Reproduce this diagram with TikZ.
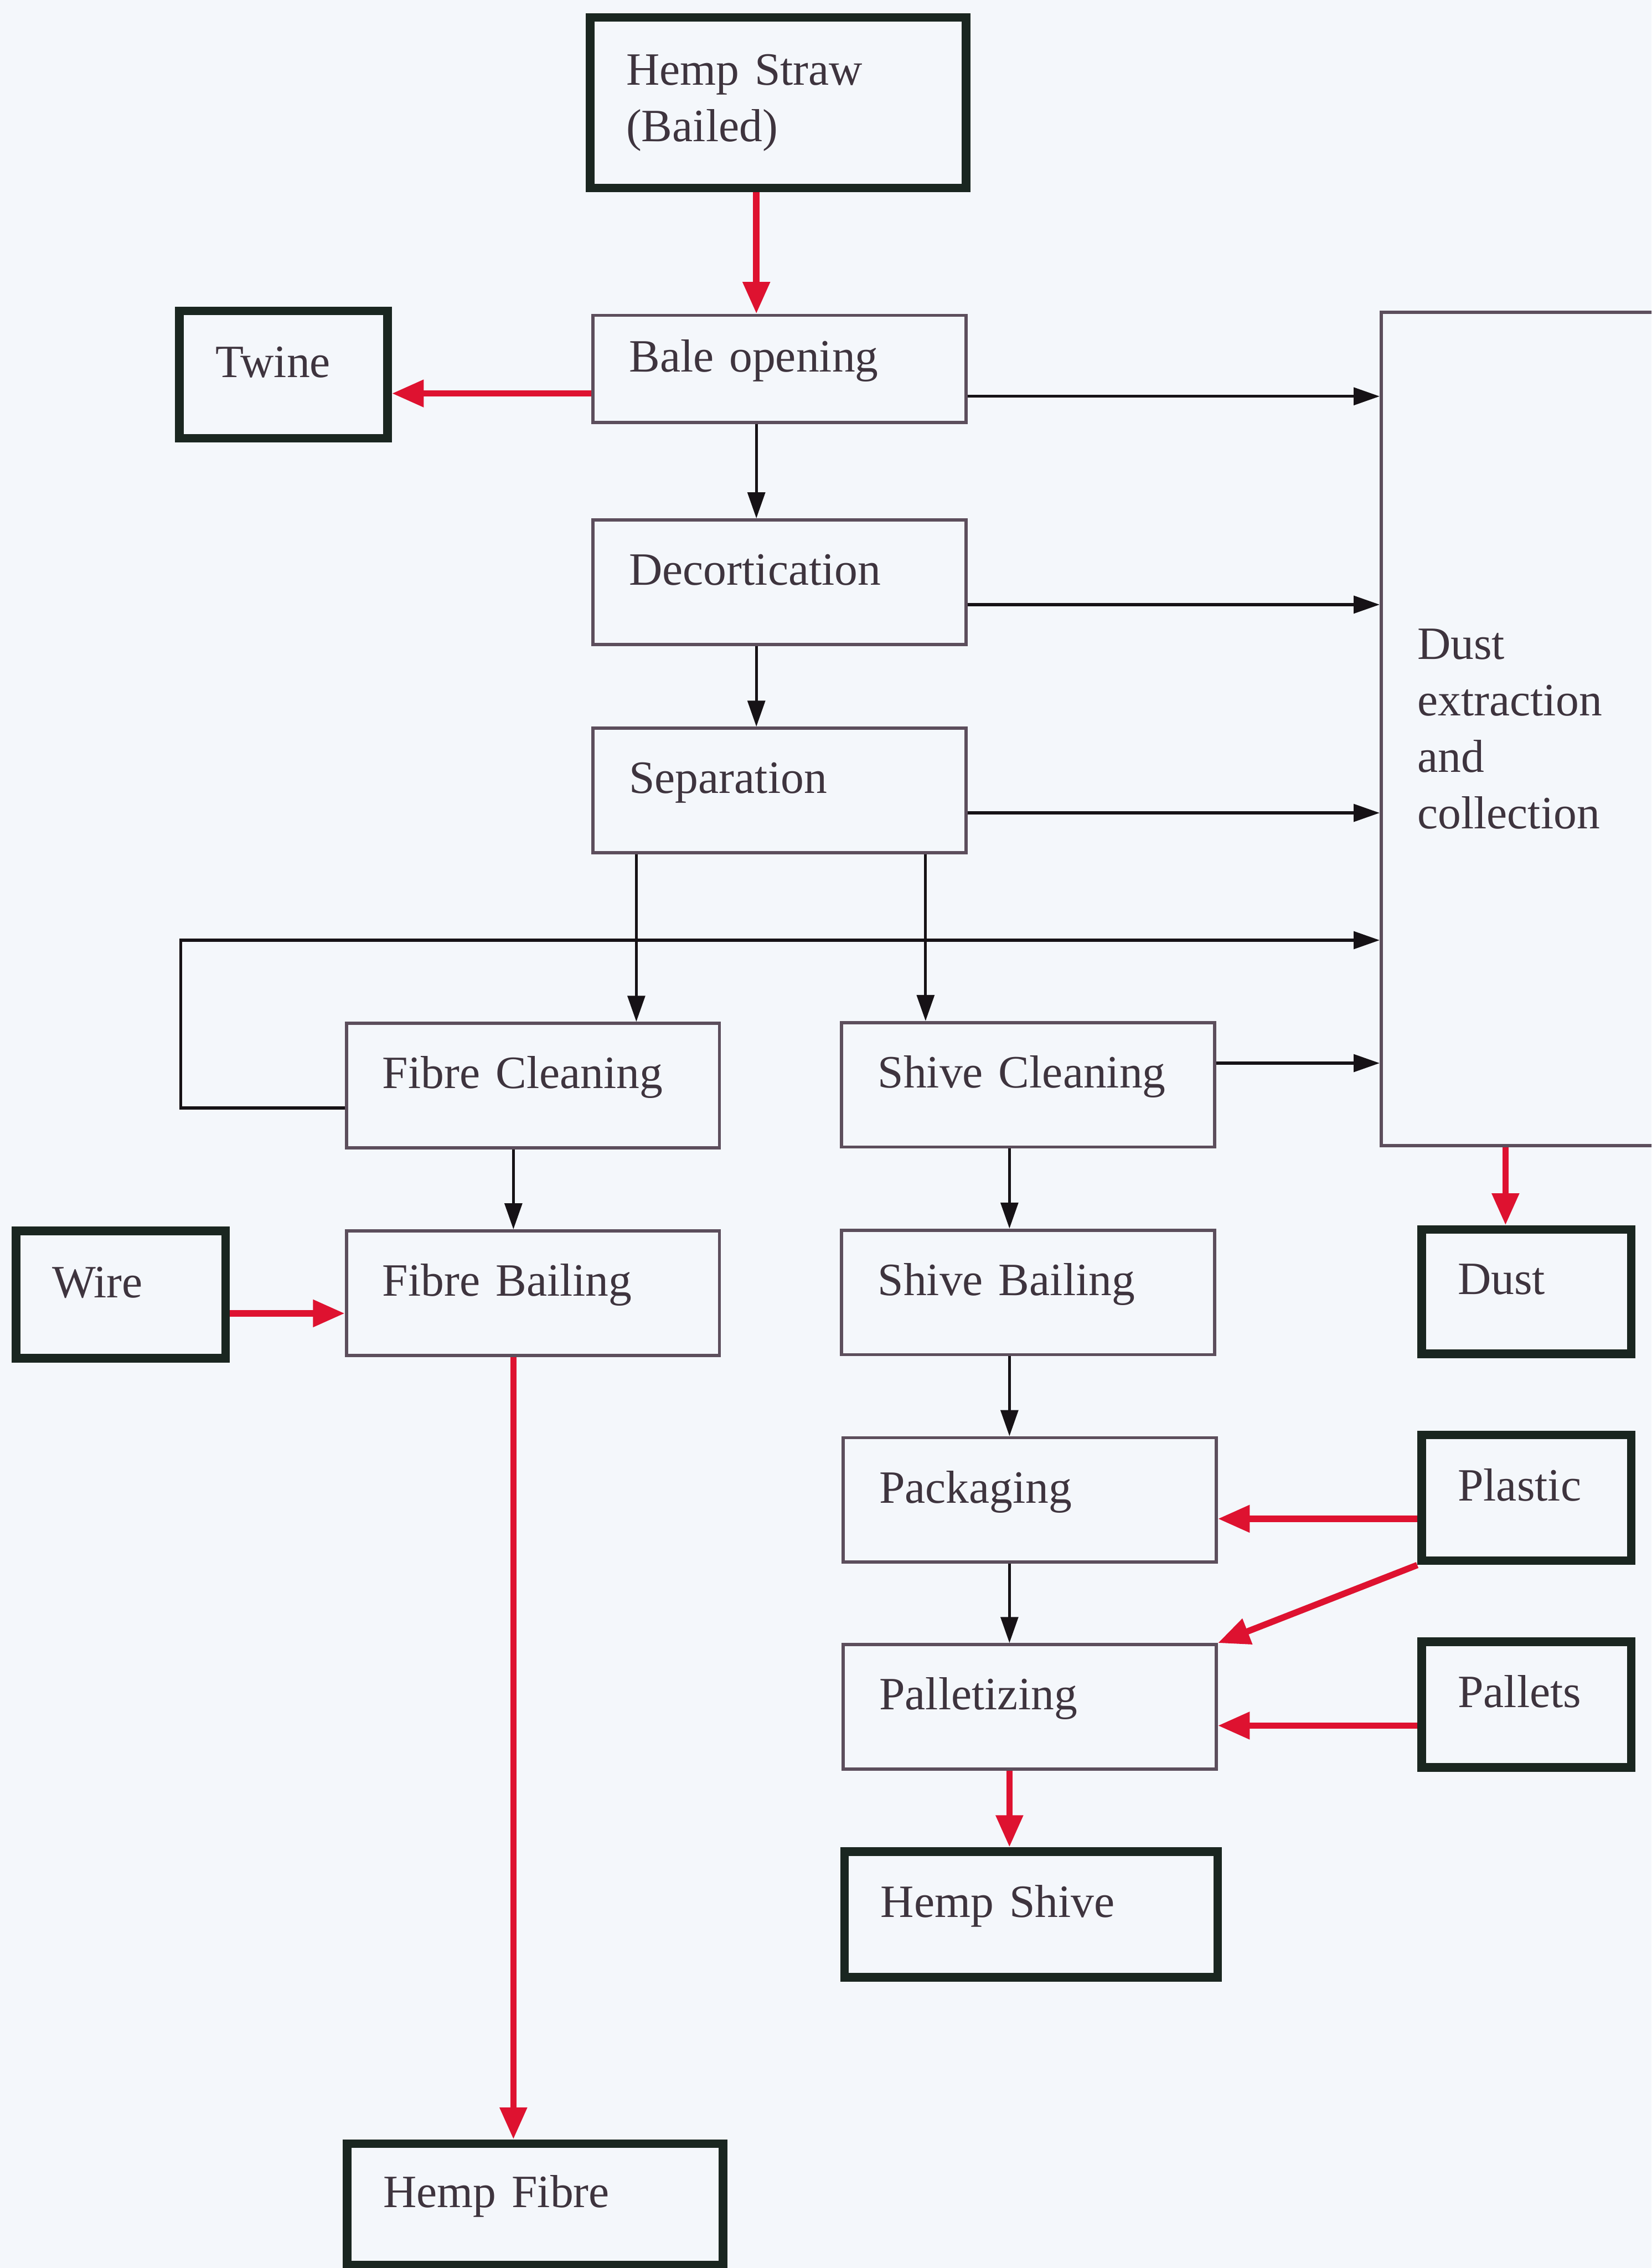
\documentclass[tikz,border=0pt]{standalone}
\usepackage{fontspec}
\setmainfont{Liberation Serif}
\usetikzlibrary{arrows.meta}

\definecolor{bgc}{RGB}{244,247,251}
\definecolor{txtc}{RGB}{62,52,62}
\definecolor{linec}{RGB}{92,78,92}
\definecolor{edgec}{RGB}{26,38,32}
\definecolor{flowred}{RGB}{222,18,48}
\definecolor{flowblk}{RGB}{22,18,22}

\begin{document}
\begin{tikzpicture}[x=0.5pt,y=-0.5pt,
  every node/.style={font=\fontsize{16pt}{19.5pt}\selectfont, text=txtc},
  basebox/.style={rectangle, draw=linec, line width=1.1pt, align=left,
                  inner xsep=12.5pt, inner ysep=0pt},
  oneline/.style={text height=11pt, text depth=9pt},
  stage/.style={basebox, oneline, text width=104pt, minimum height=43pt},
  endbox/.style={basebox, draw=edgec, line width=3pt},
  blkarrow/.style={draw=flowblk, line width=1pt, -{Triangle[length=9pt,width=6pt]}},
  redarrow/.style={draw=flowred, line width=2.2pt, -{Triangle[length=11pt,width=9pt]}}
]
\useasboundingbox (0,0) rectangle (1142,1568);
\clip (0,0) rectangle (1142,1568);
\fill[bgc] (0,0) rectangle (1142,1568);

% main fibre/shive processing line
\node[endbox, text width=105pt, minimum height=59pt] (straw) at (538,71) {Hemp Straw\\(Bailed)};
\node[stage, minimum height=37pt] (bale) at (539,255) {Bale opening};
\node[endbox, oneline, text width=47pt, minimum height=44pt] (twine) at (196,259) {Twine};
\node[stage] (decort) at (539,402.5) {Decortication};
\node[stage] (sep) at (539,546.5) {Separation};
\node[basebox, anchor=west, text width=95pt, minimum height=288pt] (dustx) at (954,504)
  {Dust\\extraction\\and\\collection};
\node[stage] (fclean) at (368.5,750.5) {Fibre Cleaning};
\node[stage] (sclean) at (711,750) {Shive Cleaning};
\node[endbox, oneline, text width=47.5pt, minimum height=44pt] (wire) at (83.5,895) {Wire};
\node[stage] (fbail) at (368.5,894) {Fibre Bailing};
\node[stage] (sbail) at (711,893.5) {Shive Bailing};
\node[endbox, oneline, text width=47.5pt, minimum height=43pt] (dust) at (1055.5,893) {Dust};
\node[stage] (pack) at (712,1037) {Packaging};
\node[endbox, oneline, text width=47.5pt, minimum height=43.5pt] (plastic) at (1055.5,1035.5) {Plastic};
\node[stage] (pallet) at (712,1180) {Palletizing};
\node[endbox, oneline, text width=47.5pt, minimum height=43.5pt] (pallets) at (1055.5,1178.5) {Pallets};
\node[endbox, oneline, text width=104pt, minimum height=43.5pt] (shive) at (713,1323.5) {Hemp Shive};
\node[endbox, oneline, text width=105pt, minimum height=42pt] (fibre) at (370,1524) {Hemp Fibre};

% connectors
\draw[redarrow] ([xshift=-7.5pt]straw.south) -- ([xshift=-8pt]bale.north);
\draw[redarrow] ([yshift=-8.5pt]bale.west) -- ([yshift=-6.5pt]twine.east);
\draw[blkarrow] ([yshift=-9.5pt]bale.east) coordinate (e1) -- (e1 -| dustx.west);
\draw[blkarrow] ([xshift=-8pt]bale.south) -- ([xshift=-8pt]decort.north);
\draw[blkarrow] ([yshift=-7.75pt]decort.east) coordinate (e2) -- (e2 -| dustx.west);
\draw[blkarrow] ([xshift=-8pt]decort.south) -- ([xshift=-8pt]sep.north);
\draw[blkarrow] ([yshift=-7.75pt]sep.east) coordinate (e3) -- (e3 -| dustx.west);
\draw[blkarrow] ([xshift=-49.5pt]sep.south) coordinate (s1) -- (s1 |- fclean.north);
\draw[blkarrow] ([xshift=50.5pt]sep.south) coordinate (s2) -- (s2 |- sclean.north);
\coordinate (loopc) at (125,650);
\draw[blkarrow] ([yshift=-7.75pt]fclean.west) -| (loopc) -- (loopc -| dustx.west);
\draw[blkarrow] ([yshift=7.5pt]sclean.east) coordinate (e4) -- (e4 -| dustx.west);
\draw[blkarrow] ([xshift=-6.75pt]fclean.south) coordinate (f1) -- (f1 |- fbail.north);
\draw[redarrow] ([yshift=-6.5pt]wire.east) coordinate (w1) -- (w1 -| fbail.west);
\draw[redarrow] ([xshift=-6.75pt]fbail.south) coordinate (f2) -- (f2 |- fibre.north);
\draw[blkarrow] ([xshift=-6.5pt]sclean.south) coordinate (c1) -- (c1 |- sbail.north);
\draw[blkarrow] ([xshift=-6.5pt]sbail.south) coordinate (c2) -- (c2 |- pack.north);
\draw[blkarrow] ([xshift=-7pt]pack.south) coordinate (c3) -- (c3 |- pallet.north);
\draw[redarrow] ([xshift=-7pt]pallet.south) coordinate (c4) -- (c4 |- shive.north);
\path ([xshift=-7.25pt]dust.north) coordinate (d1);
\draw[redarrow] (d1 |- dustx.south) -- (d1);
\draw[redarrow] ([yshift=-7.25pt]plastic.west) coordinate (p1) -- (p1 -| pack.east);
\draw[redarrow] (plastic.south west) -- (pallet.north east);
\draw[redarrow] ([yshift=-7.25pt]pallets.west) coordinate (p2) -- (p2 -| pallet.east);
\end{tikzpicture}
\end{document}
